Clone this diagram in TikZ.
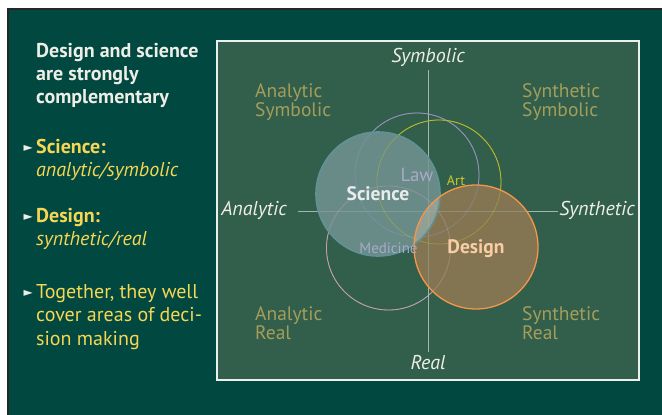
\documentclass[tikz,border=0pt]{standalone}
\usepackage{fontspec}
\setmainfont{PT Sans}
\newfontfamily\symfont{DejaVu Sans}
\definecolor{slidebg}{RGB}{0,72,64}
\definecolor{panelbg}{RGB}{50,94,76}
\definecolor{headtxt}{RGB}{238,238,230}
\definecolor{yelltxt}{RGB}{247,214,84}
\definecolor{quadtxt}{RGB}{165,158,90}
\definecolor{axisline}{RGB}{165,180,172}
\definecolor{scifill}{RGB}{104,139,136}
\definecolor{sciline}{RGB}{96,146,150}
\definecolor{desfill}{RGB}{132,117,82}
\definecolor{desline}{RGB}{245,150,72}
\definecolor{lawline}{RGB}{150,150,190}
\definecolor{artline}{RGB}{190,190,40}
\definecolor{medline}{RGB}{200,160,180}
\definecolor{overlapfill}{RGB}{146,160,148}
\definecolor{scitxt}{RGB}{232,236,236}
\definecolor{lawtxt}{RGB}{168,170,200}
\definecolor{arttxt}{RGB}{205,200,40}
\definecolor{destxt}{RGB}{250,205,165}
\usetikzlibrary{positioning}
\begin{document}
\begin{tikzpicture}[x=1pt,y=-1pt,
    headline/.style={anchor=north west,inner sep=0pt,align=left,text=headtxt,font=\fontsize{20}{23}\selectfont\bfseries},
    bultext/.style={anchor=north west,inner sep=0pt,align=left,text=yelltxt,font=\fontsize{20}{23.5}\selectfont},
    bulmark/.style={anchor=east,inner sep=0pt,text=headtxt,font=\symfont\fontsize{12}{12}\selectfont},
    axislabel/.style={text=headtxt,inner sep=1pt,font=\fontsize{20}{20}\selectfont\itshape},
    quadlabel/.style={anchor=north west,inner sep=0pt,align=left,text=quadtxt,font=\fontsize{19.5}{19}\selectfont},
    axis/.style={draw=axisline,line width=0.8pt},
    ring/.style={circle,inner sep=0pt,minimum size=124pt,line width=0.8pt},
    bigring/.style={circle,inner sep=0pt,minimum size=124pt}
  ]
  \useasboundingbox (0,0) rectangle (662,415);
  \fill[white] (0,0) rectangle (662,415);
  \fill[slidebg] (8,9) rectangle (662,415);
  \draw[black!85,line width=2pt] (8,415) -- (8,9) -- (662,9);
  \draw[white!90!panelbg,line width=1.2pt,fill=panelbg] (217,41) rectangle (639,380);

  \node[headline] (head) at (36,43) {Design and science\\are strongly\\complementary};
  \node[bultext] (scibul) at (36,139) {\textbf{Science:}\\\textit{analytic/symbolic}};
  \node[bultext] (desbul) at (36,208) {\textbf{Design:}\\\textit{synthetic/real}};
  \node[bultext] (togbul) at (36,284) {Together, they well\\cover areas of deci-\\sion making};
  \node[bulmark,left=3pt of scibul.north west,yshift=-9pt] (mark1) {►};
  \node[bulmark,left=3pt of desbul.north west,yshift=-9pt] (mark2) {►};
  \node[bulmark,left=3pt of togbul.north west,yshift=-9pt] (mark3) {►};

  \node[axislabel] (symbolic) at (428,57) {Symbolic};
  \node[axislabel] (real) at (428,363) {Real};
  \node[axislabel] (analytic) at (254,210) {Analytic};
  \node[axislabel] (synthetic) at (597,210) {Synthetic};
  \coordinate (symtop) at (428,70);
  \coordinate (realbot) at (428,352);
  \coordinate (anaend) at (298,211);
  \coordinate (synend) at (558,211);
  \draw[axis] (symtop) -- (realbot);
  \draw[axis] (anaend) -- (synend);

  \node[quadlabel] (anasym) at (255,83) {Analytic\\Symbolic};
  \node[quadlabel] (synsym) at (522,83) {Synthetic\\Symbolic};
  \node[quadlabel] (anareal) at (255,306) {Analytic\\Real};
  \node[quadlabel] (synreal) at (522,306) {Synthetic\\Real};

  \node[ring,draw=lawline] (lawring) at (417,175) {};
  \node[ring,draw=artline] (artring) at (439,182) {};
  \node[ring,draw=medline] (medring) at (388.5,248) {};
  \node[bigring,fill=scifill] (sciring) at (378,194) {};
  \node[bigring,fill=desfill] (desring) at (476,247) {};
  \begin{scope}
    \clip (sciring.center) circle[radius=62pt];
    \fill[overlapfill] (desring.center) circle[radius=62pt];
  \end{scope}
  \begin{scope}[draw opacity=0.4]
    \draw[axis] (symtop) -- (realbot);
    \draw[axis] (anaend) -- (synend);
    \draw[lawline,line width=0.8pt] (lawring.center) circle[radius=62pt];
    \draw[artline,line width=0.8pt] (artring.center) circle[radius=62pt];
    \draw[medline,line width=0.8pt] (medring.center) circle[radius=62pt];
  \end{scope}
  \draw[sciline,line width=1.6pt] (sciring.center) circle[radius=62pt];
  \draw[desline,line width=1.3pt] (desring.center) circle[radius=62pt];

  \node[text=scitxt,font=\fontsize{19.5}{19}\selectfont\bfseries] (scilabel) at (sciring.center) {Science};
  \node[text=lawtxt,font=\fontsize{19}{19}\selectfont] (lawlabel) at (lawring.center) {Law};
  \node[text=arttxt,font=\fontsize{14}{14}\selectfont] (artlabel) at (456,181) {Art};
  \node[text=lawtxt,font=\fontsize{15}{15}\selectfont] (medlabel) at (medring.center) {Medicine};
  \node[text=destxt,font=\fontsize{19.5}{19}\selectfont\bfseries] (deslabel) at (476,249) {Design};
\end{tikzpicture}
\end{document}
